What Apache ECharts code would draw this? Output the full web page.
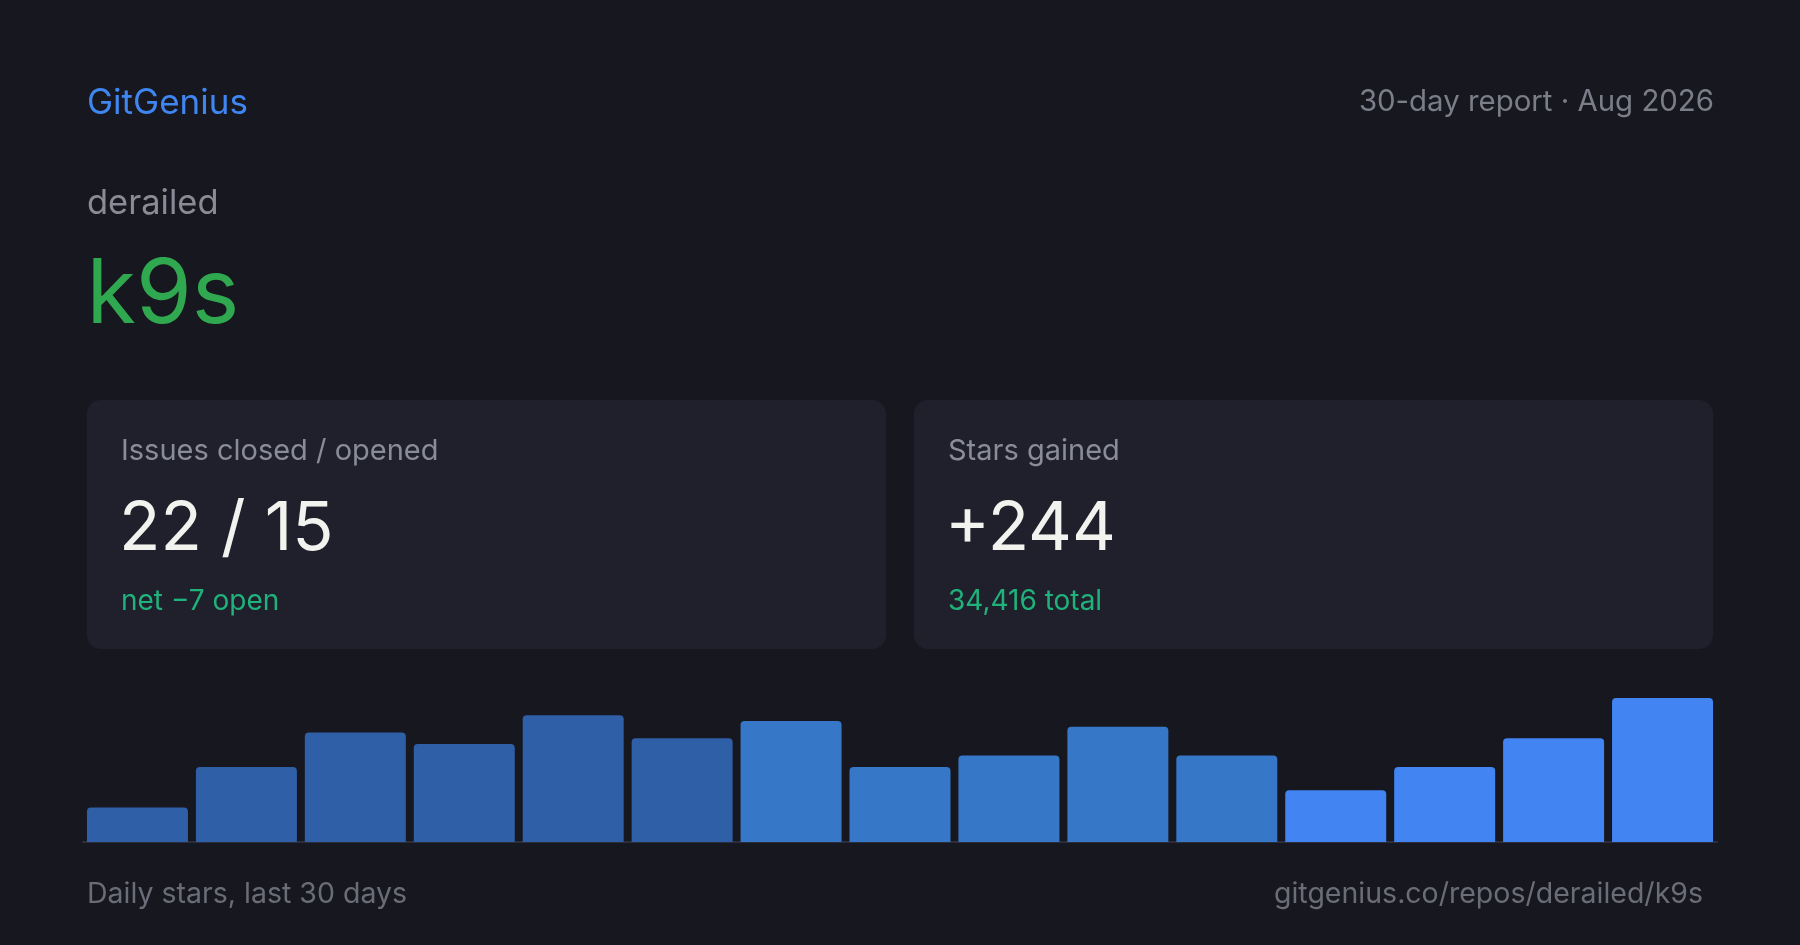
<!DOCTYPE html>
<html>
<head>
<meta charset="utf-8">
<title>GitGenius - derailed/k9s</title>
<script src="https://cdn.jsdelivr.net/npm/echarts@6/dist/echarts.min.js"></script>
<style>
  html, body { margin: 0; padding: 0; background: #16171f; }
  #container { width: 1800px; height: 945px; }
</style>
</head>
<body>
<div id="container"></div>
<script>
// stars gained per 2-day bucket over the last 30 days
var days = ['1-2', '3-4', '5-6', '7-8', '9-10', '11-12', '13-14', '15-16',
            '17-18', '19-20', '21-22', '23-24', '25-26', '27-28', '29-30'];
var dailyStars = [6, 13, 19, 17, 22, 18, 21, 13, 15, 20, 15, 9, 13, 18, 25];

var issuesClosed = 22;
var issuesOpened = 15;
var starsTotal = 34416;

var FONT = 'Inter, "Noto Sans", sans-serif';

// three shades, older buckets darker
function barColor(i) {
    if (i < 6) return '#2f5fa7';
    if (i < 11) return '#3677c7';
    return '#4184f2';
}

function txt(x, y, text, size, color, align) {
    return {
        type: 'text',
        x: x,
        y: y,
        silent: true,
        style: {
            text: text,
            fill: color,
            font: size + 'px ' + FONT,
            textAlign: align || 'left',
            textVerticalAlign: 'middle'
        }
    };
}

function card(x) {
    return {
        type: 'rect',
        shape: {x: x, y: 400, width: 799, height: 249, r: 14},
        style: {fill: '#1f202b'},
        silent: true
    };
}

var net = issuesOpened - issuesClosed;
var sum = 0;
for (var i = 0; i < dailyStars.length; i++) sum += dailyStars[i];

var myChart = echarts.init(document.getElementById('container'));

var option = {
    backgroundColor: '#16171f',
    animation: false,
    grid: {left: 83, right: 83, top: 698, bottom: 103},
    xAxis: {
        type: 'category',
        data: days,
        offset: 1,
        axisLine: {show: true, lineStyle: {color: '#2c2d3a', width: 2}},
        axisTick: {show: false},
        axisLabel: {show: false}
    },
    yAxis: {
        type: 'value',
        min: 0,
        max: 25,
        show: false,
        splitLine: {show: false}
    },
    series: [{
        type: 'bar',
        barWidth: 101,
        data: dailyStars.map(function (v, i) {
            return {value: v, itemStyle: {color: barColor(i), borderRadius: [4, 4, 0, 0]}};
        })
    }],
    graphic: [
        txt(87, 103.5, 'GitGenius', 35, '#3f86f0'),
        txt(1714, 102.5, '30-day report \u00b7 Aug 2026', 29.4, '#7b7d89', 'right'),
        txt(87, 204, 'derailed', 34.5, '#8a8b96'),
        txt(86.5, 296, 'k9s', 90, '#2fa84f'),

        card(87),
        card(914),

        txt(121, 451, 'Issues closed / opened', 29, '#8a8c98'),
        txt(119, 530, issuesClosed + ' / ' + issuesOpened, 68, '#f2f2ef'),
        txt(121, 602, 'net \u2212' + Math.abs(net) + ' open', 28, '#20b27b'),

        txt(948, 451, 'Stars gained', 29, '#8a8c98'),
        txt(945, 530, '+' + sum, 68, '#f2f2ef'),
        txt(948, 602, starsTotal.toLocaleString('en-US') + ' total', 28, '#20b27b'),

        txt(87, 894, 'Daily stars, last 30 days', 28.5, '#6a6c77'),
        txt(1703, 894, 'gitgenius.co/repos/derailed/k9s', 28.5, '#6a6c77', 'right')
    ]
};

myChart.setOption(option);
</script>
</body>
</html>
